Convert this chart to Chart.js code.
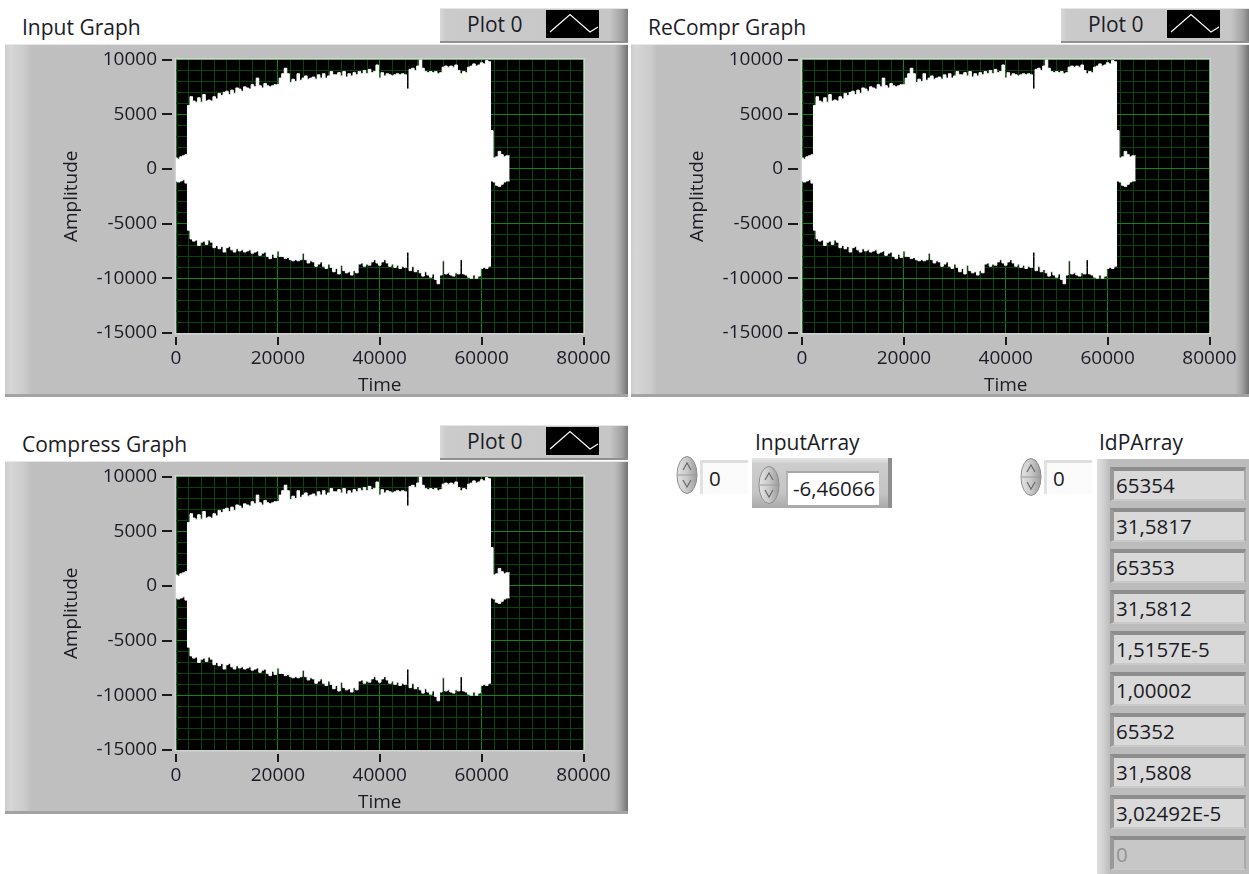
<!DOCTYPE html>
<html>
<head>
<meta charset="utf-8">
<script src="https://cdn.jsdelivr.net/npm/chart.js@4.4.0/dist/chart.umd.min.js"></script>
<style>
  html, body { margin: 0; padding: 0; }
  body { width: 1249px; height: 874px; background: #fff; position: relative; overflow: hidden;
         font-family: "Open Sans", "Noto Sans", sans-serif; color: #1b1b26; }
  .txt { position: absolute; font-size: 21px; line-height: 24px; white-space: nowrap; }
  .panel { position: absolute;
    background: linear-gradient(to right, #cdcdcd 0, #d6d6d6 5px, #cbcbcb 20px, #bfbfbf 26px, #bfbfbf calc(100% - 14px), #a8a8a8 calc(100% - 8px), #727272 100%);
    border-top: 1px solid #e8e8e8; box-shadow: inset 0 -3px 0 #a3a3a3; box-sizing: border-box; }
  .legend { position: absolute; width: 188px; height: 35px; box-sizing: border-box;
    background: linear-gradient(to right, #d8d8d8 0, #cbcbcb 6px, #c6c6c6 calc(100% - 18px), #a2a2a2 calc(100% - 6px), #7c7c7c 100%);
    border-top: 1px solid #e6e6e6; border-bottom: 2px solid #8f8f8f; }
  .legend .lbl { left: 27px; top: 3px; }
  .legend svg { position: absolute; left: 106px; top: 1px; }
  canvas { position: absolute; }
  .spin { position: absolute; }
  .idx { position: absolute; width: 48px; height: 34px; background: #fbfbfb; box-sizing: border-box;
         border-top: 3px solid #dedede; border-left: 3px solid #e2e2e2; }
  .idx span { position: absolute; left: 6px; top: 3px; font-size: 20.5px; line-height: 24px; }
  .elemFrame { position: absolute; box-sizing: border-box;
    background: linear-gradient(to bottom, #e6e6e6 0, #cdcdcd 6px, #c4c4c4 70%, #a9a9a9 100%);
    border-right: 4px solid #8e8e8e; }
  .numBox { position: absolute; background: #fff; overflow: hidden; box-sizing: border-box;
            border-top: 2px solid #a8a8a8; border-left: 2px solid #b4b4b4; }
  .numBox span { position: absolute; left: 5px; top: 3px; font-size: 20.5px; line-height: 24px; white-space: nowrap; }
  .arrayFrame { position: absolute; box-sizing: border-box;
    background: linear-gradient(to right, #dedede 0, #d2d2d2 6px, #bcbcbc 13px, #bcbcbc 100%); }
  .cell { position: absolute; width: 136px; height: 34px; box-sizing: border-box; background: #d9d9d9;
          border-top: 4px solid #8d8d8d; border-left: 4px solid #999; border-right: 2px solid #a9a9a9; border-bottom: 2px solid #c9c9c9; }
  .cell span { position: absolute; left: 2px; top: 2px; font-size: 20.5px; line-height: 24px; white-space: nowrap; }
  .cell.off { background: #c7c7c7; }
  .cell.off span { color: #939393; }
</style>
</head>
<body>
<script>
// Sample times of the envelope columns (Time axis units)
const sampleTimes = [
  0, 500, 1000, 1500, 2000, 2500, 3000, 3500, 4000, 4500,
  5000, 5500, 6000, 6500, 7000, 7500, 8000, 8500, 9000, 9500,
  10000, 10500, 11000, 11500, 12000, 12500, 13000, 13500, 14000, 14500,
  15000, 15500, 16000, 16500, 17000, 17500, 18000, 18500, 19000, 19500,
  20000, 20500, 21000, 21500, 22000, 22500, 23000, 23500, 24000, 24500,
  25000, 25500, 26000, 26500, 27000, 27500, 28000, 28500, 29000, 29500,
  30000, 30500, 31000, 31500, 32000, 32500, 33000, 33500, 34000, 34500,
  35000, 35500, 36000, 36500, 37000, 37500, 38000, 38500, 39000, 39500,
  40000, 40500, 41000, 41500, 42000, 42500, 43000, 43500, 44000, 44500,
  45000, 45500, 46000, 46500, 47000, 47500, 48000, 48500, 49000, 49500,
  50000, 50500, 51000, 51500, 52000, 52500, 53000, 53500, 54000, 54500,
  55000, 55500, 56000, 56500, 57000, 57500, 58000, 58500, 59000, 59500,
  60000, 60500, 61000, 61500, 62000, 62500, 63000, 63500, 64000, 64500,
  65000, 65500
];

// Upper edge of the waveform (max amplitude per column)
const envelopeMax = [
  1000, 900, 1100, 1200, 1300, 5800, 6600, 6200, 6100, 6500,
  6100, 6800, 6200, 6300, 6200, 6600, 6400, 6900, 6700, 7000,
  7100, 6800, 7200, 6900, 7400, 7300, 7100, 7500, 7400, 7300,
  7700, 7500, 8300, 7600, 7400, 7800, 7600, 7500, 7600, 7700,
  7700, 8300, 8700, 9200, 8700, 7900, 8200, 8000, 8700, 8100,
  8300, 8500, 8200, 8300, 8400, 8200, 8600, 8300, 8700, 8300,
  8500, 8900, 8600, 8600, 8800, 8500, 8900, 8400, 8700, 8500,
  8800, 8600, 8900, 8700, 9000, 8700, 9100, 8800, 8900, 9500,
  8300, 8800, 8500, 8700, 8600, 8500, 8600, 8700, 8600, 8700,
  8600, 7300, 9100, 9200, 9000, 9400, 10000, 9200, 8900, 8800,
  8900, 8800, 8900, 8700, 8800, 9300, 9400, 9300, 9400, 9300,
  9500, 9000, 8700, 8900, 8800, 9300, 9400, 9600, 9400, 9500,
  9700, 9600, 9900, 9800, 3500, 1000, 1100, 1600, 1300, 1100,
  1200, 1200
];

// Lower edge of the waveform (min amplitude per column)
const envelopeMin = [
  -1100, -1200, -1100, -1000, -1300, -5600, -6400, -6600, -6500, -7000,
  -6700, -6600, -6900, -6500, -6700, -7200, -7000, -7300, -7100, -7600,
  -7200, -7100, -7400, -7600, -7300, -7500, -7400, -7600, -7500, -7400,
  -7700, -7600, -7500, -7900, -7700, -7600, -8000, -8200, -7800, -8100,
  -7500, -8000, -8000, -8200, -8100, -8300, -8400, -8300, -8400, -8300,
  -7700, -8300, -8600, -8400, -8500, -8900, -8700, -8500, -8900, -9100,
  -8700, -9000, -9400, -9100, -9600, -8800, -9300, -9500, -9400, -9700,
  -9300, -9500, -8700, -8600, -8900, -8700, -8800, -8500, -8300, -8600,
  -8800, -8500, -8300, -8600, -8900, -8700, -9000, -8800, -9100, -8900,
  -9000, -7600, -9300, -8900, -9400, -9200, -9500, -9800, -9400, -9700,
  -9900, -9600, -10100, -10500, -9700, -8400, -9600, -9500, -9700, -9800,
  -9500, -9600, -8300, -9600, -9700, -9900, -10000, -9700, -10000, -9800,
  -9100, -9000, -9100, -8900, -1100, -1200, -1500, -1600, -1400, -1200,
  -1100, -1100
];

const timeTicks = [0, 20000, 40000, 60000, 80000];
const amplitudeTicks = [10000, 5000, 0, -5000, -10000, -15000];
const graphTitles = ['Input Graph', 'ReCompr Graph', 'Compress Graph'];
const plotName = 'Plot 0';
const inputArrayIndex = '0';
const inputArrayValue = '-6,46066';
const idpArrayIndex = '0';
const idpArrayValues = ['65354', '31,5817', '65353', '31,5812', '1,5157E-5', '1,00002', '65352', '31,5808', '3,02492E-5', '0'];

const FONT = '"Open Sans", "Noto Sans", sans-serif';
const INK = '#1b1b26';

function el(tag, cls, style, parent) {
  const e = document.createElement(tag);
  if (cls) e.className = cls;
  Object.assign(e.style, style || {});
  (parent || document.body).appendChild(e);
  return e;
}

function spinner(x, y) {
  const d = el('div', 'spin', { left: x + 'px', top: y + 'px' });
  d.innerHTML =
    '<svg width="22" height="40" viewBox="0 0 22 40">' +
    '<defs><linearGradient id="sg" x1="0" x2="1" y1="0" y2="0">' +
    '<stop offset="0" stop-color="#e4e4e4"/><stop offset="0.5" stop-color="#c9c9c9"/><stop offset="1" stop-color="#9c9c9c"/>' +
    '</linearGradient></defs>' +
    '<ellipse cx="11" cy="20" rx="10" ry="18.5" fill="url(#sg)" stroke="#8e8e8e" stroke-width="1"/>' +
    '<line x1="2" y1="20" x2="20" y2="20" stroke="#9a9a9a" stroke-width="1"/>' +
    '<path d="M7 15 L11 8 L15 15" fill="none" stroke="#6a6a6a" stroke-width="1.2"/>' +
    '<path d="M7 25 L11 32 L15 25" fill="none" stroke="#6a6a6a" stroke-width="1.2"/>' +
    '</svg>';
  return d;
}

// Black plot background, frame and major tick dashes around the plot area
const plotFrame = {
  id: 'plotFrame',
  beforeDraw(chart) {
    const { ctx, chartArea: a } = chart;
    ctx.save();
    ctx.fillStyle = '#000';
    ctx.fillRect(a.left, a.top, a.right - a.left, a.bottom - a.top);
    ctx.restore();
  },
  afterDraw(chart) {
    const { ctx, chartArea: a, scales } = chart;
    ctx.save();
    ctx.strokeStyle = '#d2d2d2';
    ctx.lineWidth = 1.5;
    ctx.strokeRect(a.left - 0.75, a.top - 0.75, a.right - a.left + 1.5, a.bottom - a.top + 1.5);
    ctx.strokeStyle = '#1a1a1a';
    ctx.lineWidth = 2;
    amplitudeTicks.forEach(v => {
      const y = Math.round(scales.y.getPixelForValue(v));
      ctx.beginPath(); ctx.moveTo(a.left - 14, y); ctx.lineTo(a.left - 4, y); ctx.stroke();
    });
    timeTicks.forEach(v => {
      const x = Math.round(scales.x.getPixelForValue(v));
      ctx.beginPath(); ctx.moveTo(x, a.bottom + 4); ctx.lineTo(x, a.bottom + 12); ctx.stroke();
    });
    ctx.restore();
  }
};

function buildGraph(title, ox, oy, panelWidth) {
  el('div', 'panel', { left: (5 + ox) + 'px', top: (44 + oy) + 'px', width: panelWidth + 'px', height: '353px' });
  const t = el('div', 'txt', { left: (22 + ox) + 'px', top: (15 + oy) + 'px' });
  t.textContent = title;

  const lg = el('div', 'legend', { left: (5 + ox + panelWidth - 188) + 'px', top: (8 + oy) + 'px' });
  const ll = el('div', 'txt lbl', {}, lg);
  ll.textContent = plotName;
  lg.insertAdjacentHTML('beforeend',
    '<svg width="53" height="28"><rect width="53" height="28" fill="#000"/>' +
    '<polyline points="4,22 24,4.5 44,22 52,17" fill="none" stroke="#fff" stroke-width="1.2"/></svg>');

  const cv = el('canvas', null, { left: (30 + ox) + 'px', top: (44 + oy) + 'px' });
  cv.width = 590; cv.height = 351;

  const major = '#138218', minor = '#06460a';
  new Chart(cv, {
    type: 'line',
    data: {
      datasets: [
        { data: sampleTimes.map((t, i) => ({ x: t, y: envelopeMax[i] })),
          borderColor: '#fff', backgroundColor: '#fff', borderWidth: 1, pointRadius: 0,
          stepped: 'middle', fill: '+1' },
        { data: sampleTimes.map((t, i) => ({ x: t, y: envelopeMin[i] })),
          borderColor: '#fff', backgroundColor: '#fff', borderWidth: 1, pointRadius: 0,
          stepped: 'middle', fill: false }
      ]
    },
    options: {
      responsive: false, animation: false, devicePixelRatio: 1,
      layout: { padding: { top: 15.5, right: 36.5, left: 0, bottom: 0 } },
      plugins: { legend: { display: false }, tooltip: { enabled: false } },
      scales: {
        x: {
          type: 'linear', min: 0, max: 80000,
          afterFit: s => { s.height = 62; s.paddingLeft = 0; s.paddingRight = 0; },
          grid: { drawTicks: false, lineWidth: 1,
                  color: c => (c.tick && c.tick.value % 20000 === 0) ? major : minor },
          border: { display: false },
          ticks: { stepSize: 2500, autoSkip: false, maxRotation: 0, padding: 14, color: INK,
                   font: { family: FONT, size: 19 },
                   callback: v => (timeTicks.includes(v) ? String(v) : '') },
          title: { display: true, text: 'Time', color: INK, padding: { top: 0, bottom: 0 },
                   font: { family: FONT, size: 19, lineHeight: 1 } }
        },
        y: {
          min: -15000, max: 10000,
          afterFit: s => { s.width = 146; s.paddingTop = 0; s.paddingBottom = 0; },
          grid: { drawTicks: false, lineWidth: 1,
                  color: c => (c.tick && c.tick.value % 5000 === 0) ? major : minor },
          border: { display: false },
          ticks: { stepSize: 1000, autoSkip: false, padding: 19, color: INK,
                   font: { family: FONT, size: 19 },
                   callback: v => (amplitudeTicks.includes(v) ? String(v) : '') },
          title: { display: true, text: 'Amplitude', color: INK, padding: { top: 32.5, bottom: 0 },
                   font: { family: FONT, size: 19, lineHeight: 1 } }
        }
      }
    },
    plugins: [plotFrame]
  });
}

buildGraph(graphTitles[0], 0, 0, 623);
buildGraph(graphTitles[1], 626, 0, 618);
buildGraph(graphTitles[2], 0, 417, 623);

// InputArray control
const ia = el('div', 'txt', { left: '755px', top: '430px' });
ia.textContent = 'InputArray';
spinner(676, 455);
const iaIdx = el('div', 'idx', { left: '700px', top: '460px' });
el('span', null, {}, iaIdx).textContent = inputArrayIndex;
el('div', 'elemFrame', { left: '752px', top: '458px', width: '140px', height: '50px' });
spinner(758, 465);
const iaBox = el('div', 'numBox', { left: '786px', top: '471px', width: '93px', height: '34px' });
el('span', null, {}, iaBox).textContent = inputArrayValue;

// IdPArray control
const ip = el('div', 'txt', { left: '1099px', top: '430px' });
ip.textContent = 'IdPArray';
spinner(1020, 457);
const ipIdx = el('div', 'idx', { left: '1044px', top: '460px' });
el('span', null, {}, ipIdx).textContent = idpArrayIndex;
el('div', 'arrayFrame', { left: '1097px', top: '459px', width: '152px', height: '415px' });
idpArrayValues.forEach((v, i) => {
  const c = el('div', 'cell' + (i === idpArrayValues.length - 1 ? ' off' : ''),
               { left: '1110px', top: (467 + 41 * i) + 'px' });
  el('span', null, {}, c).textContent = v;
});
</script>
</body>
</html>
